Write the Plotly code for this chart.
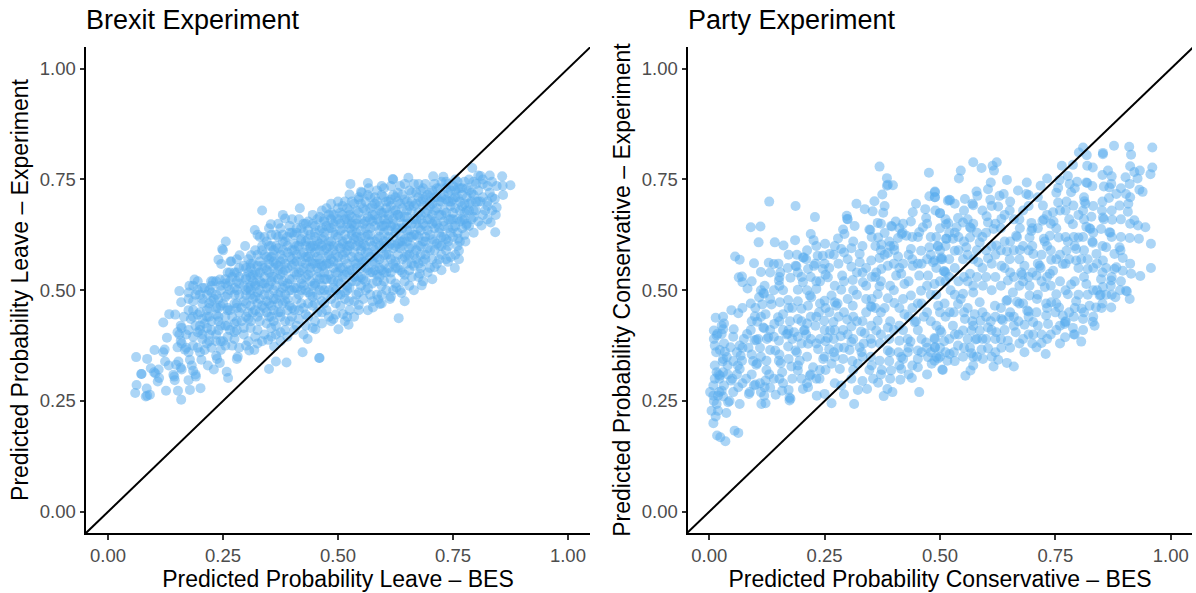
import plotly.graph_objects as go

panel_titles = ["Brexit Experiment", "Party Experiment"]
x_titles = ["Predicted Probability Leave – BES", "Predicted Probability Conservative – BES"]
y_titles = ["Predicted Probability Leave – Experiment", "Predicted Probability Conservative – Experiment"]
tick_values = [0, 0.25, 0.5, 0.75, 1]
tick_labels = ["0.00", "0.25", "0.50", "0.75", "1.00"]
diagonal = [-0.06, 1.06]

# (BES, experiment) pairs
brexit_edge = [
(.061,.349),(.085,.345),(.072,.311),(.073,.311),(.093,.324),(.1,.315),(.103,.312),(.11,.321),(.108,.294),(.111,.302),(.062,.286),(.059,.268),(.084,.278),(.082,.26),(.085,.262),(.091,.264),(.126,.273),(.152,.273),(.159,.253),(.178,.275),(.201,.279),(.175,.297),(.142,.309),(.145,.297),(.144,.305),(.124,.339),(.101,.365),(.12,.36),(.123,.366),(.132,.33),(.148,.332),(.153,.339),(.16,.321),(.158,.325),(.178,.343),(.182,.33),(.185,.318),(.191,.305),(.19,.31),(.203,.343),(.217,.33),(.23,.321),(.243,.336),(.235,.352),(.237,.345),(.258,.316),(.261,.302),(.28,.345),(.282,.35),(.307,.364),(.318,.365),(.325,.38),(.348,.388),(.361,.373),(.35,.322),(.365,.339),(.388,.337),(.423,.36),(.459,.347),
(.335,.68),(.354,.649),(.385,.662),(.417,.685),(.319,.636),(.325,.625),(.33,.62),(.256,.61),(.248,.593),(.25,.59),(.298,.6),(.24,.569),(.266,.565),(.268,.565),(.246,.559),(.286,.579),(.28,.57),(.311,.579),(.188,.524),(.224,.52),(.228,.52),(.243,.524),(.155,.498),(.177,.51),(.159,.473),(.133,.446),(.146,.445),(.12,.427),(.128,.393),(.158,.42),(.16,.415),(.151,.405),(.155,.4),(.151,.371),(.158,.386),(.167,.366),(.16,.38),(.17,.37),
(.46,.347),(.632,.437),(.682,.511),(.754,.55),(.763,.57),(.763,.589),(.842,.631),(.832,.653),(.843,.67),(.841,.706),(.875,.737),(.858,.736),(.859,.715),(.857,.757),(.83,.759),(.805,.759),(.81,.758),(.792,.776),(.729,.756),(.707,.757),(.653,.754),(.619,.751),(.62,.75),(.595,.735),(.565,.742),(.567,.73),(.527,.74),(.525,.716),(.55,.722),(.552,.72),(.523,.422),(.501,.412),(.545,.467),(.576,.461),(.591,.469),(.587,.479),(.613,.48),(.638,.494),(.627,.506),(.434,.39),(.451,.412),(.49,.435),(.511,.446),(.524,.475),(.678,.537),(.71,.552),(.739,.564),(.777,.61),(.812,.646),(.845,.687),(.779,.646),(.761,.616),
]
brexit_body = [
(.17,.40),(.19,.42),(.165,.44),(.185,.455),(.205,.47),(.175,.48),(.195,.50),(.215,.44),(.225,.41),(.205,.39),(.185,.375),(.235,.385),(.22,.46),(.24,.44),(.23,.48),(.21,.505),(.245,.50),(.25,.47),(.255,.42),(.26,.395),(.245,.365),(.27,.375),
(.27,.44),(.28,.47),(.265,.50),(.285,.515),(.29,.43),(.295,.40),(.305,.45),(.31,.49),(.30,.53),(.32,.51),(.325,.47),(.33,.43),(.34,.40),(.345,.45),(.35,.49),(.34,.53),(.325,.555),(.345,.575),(.36,.55),(.355,.60),(.34,.62),(.365,.625),(.375,.58),(.38,.52),(.37,.47),(.385,.43),(.39,.395),(.40,.44),(.41,.48),(.395,.50),(.405,.54),(.39,.60),(.41,.63),(.40,.66),(.425,.65),(.43,.60),(.42,.565),(.44,.52),(.435,.47),(.45,.43),(.465,.45),(.47,.50),(.455,.55),(.46,.59),(.45,.63),(.47,.66),(.445,.67),(.485,.64),(.49,.60),(.48,.56),(.50,.52),(.495,.47),(.515,.48),(.53,.52),(.52,.56),(.51,.61),(.505,.65),(.525,.68),(.50,.70),(.54,.66),(.55,.62),(.535,.585),(.56,.55),(.55,.51),(.57,.49),(.585,.52),(.60,.56),(.58,.59),(.57,.64),(.59,.68),(.56,.70),(.545,.705),(.605,.70),(.62,.66),(.61,.62),(.63,.58),(.615,.54),(.645,.52),(.65,.56),(.66,.60),(.64,.64),(.65,.68),(.63,.72),(.60,.73),(.67,.72),(.685,.69),(.67,.65),(.69,.62),(.68,.58),(.70,.55),(.71,.59),(.72,.63),(.705,.67),(.715,.71),(.69,.74),(.735,.73),(.745,.69),(.73,.655),(.75,.62),(.735,.59),(.76,.6),(.77,.64),(.765,.68),(.78,.71),(.76,.745),(.80,.74),(.81,.70),(.795,.665),(.82,.68),(.83,.72),(.845,.735),
(.18,.435),(.2,.41),(.21,.425),(.19,.49),(.225,.495),(.235,.46),(.26,.455),(.255,.515),(.275,.49),(.28,.41),(.31,.415),(.315,.535),(.33,.5),(.355,.52),(.36,.455),(.355,.415),(.375,.405),(.39,.455),(.385,.49),(.37,.545),(.385,.56),(.38,.625),(.405,.605),(.42,.525),(.415,.455),(.43,.42),(.445,.485),(.46,.525),(.475,.575),(.465,.615),(.485,.675),(.435,.635),(.44,.58),(.5,.56),(.505,.49),(.48,.44),(.52,.44),(.54,.49),(.55,.55),(.515,.585),(.53,.625),(.52,.66),(.56,.6),(.575,.54),(.595,.49),(.6,.6),(.59,.635),(.58,.71),(.615,.69),(.635,.61),(.655,.62),(.625,.55),(.64,.54),(.67,.57),(.675,.62),(.695,.66),(.66,.7),(.645,.74),(.71,.64),(.725,.6),(.74,.64),(.725,.7),(.755,.71),(.77,.73),(.785,.68),(.775,.66),(.8,.7),(.825,.7),(.815,.74),(.74,.74),(.71,.74),(.675,.74),
(.2,.36),(.21,.365),(.22,.385),(.25,.385),(.275,.405),(.3,.375),(.32,.395),(.36,.43),(.365,.4),(.375,.44),(.29,.46),(.3,.5),(.27,.53),(.26,.54),(.285,.55),(.31,.55),(.32,.59),(.335,.6),(.35,.64),(.37,.65),(.38,.67),(.395,.63),(.41,.58),(.42,.61),(.43,.56),(.44,.6),(.45,.6),(.47,.62),(.48,.6),(.49,.67),(.51,.69),(.53,.65),(.54,.63),(.56,.64),(.575,.67),(.6,.66),(.61,.66),(.625,.64),(.64,.6),(.655,.58),(.61,.58),(.59,.55),(.54,.55),(.51,.53),(.47,.54),(.45,.51),(.42,.5),(.41,.42),(.43,.445),(.47,.47),(.49,.505),(.52,.5),(.56,.5),(.58,.56),(.6,.52),(.62,.5),(.66,.53),(.68,.55),(.69,.58),(.72,.57),(.74,.61),(.75,.66),(.78,.65),(.79,.7),(.8,.68),(.7,.7),(.68,.66),(.65,.65),(.63,.67),(.6,.63),(.57,.61),(.55,.59),(.52,.6),(.49,.55),(.46,.56),(.44,.55),(.4,.57),(.38,.59),(.36,.58),(.35,.56),(.33,.54),(.31,.51),
]
# experiment values read in narrow columns through the dense band, keyed by BES value
brexit_columns = {
.175:[.36,.41,.455,.495], .185:[.395,.44,.475,.51], .195:[.37,.405,.445,.52], .205:[.40,.435,.48,.505], .215:[.38,.415,.455,.49],
.225:[.37,.43,.475,.51], .235:[.40,.445,.49,.52], .245:[.385,.42,.465,.51], .255:[.375,.44,.485,.525], .265:[.41,.455,.52,.54],
.275:[.39,.425,.47,.505,.54], .285:[.37,.45,.49,.53], .295:[.415,.475,.51,.555], .305:[.385,.435,.505,.54,.57], .315:[.45,.48,.52,.56],
.325:[.41,.44,.495,.535,.58], .335:[.385,.465,.515,.555,.59], .345:[.425,.475,.505,.545,.61], .355:[.395,.44,.465,.53,.575,.625], .365:[.42,.48,.51,.56,.6],
.375:[.385,.45,.495,.535,.565,.64], .385:[.41,.475,.51,.545,.61], .395:[.43,.465,.525,.575,.645], .405:[.41,.455,.505,.56,.59,.625], .415:[.435,.49,.54,.6,.66],
.425:[.4,.46,.51,.55,.585,.63], .435:[.44,.495,.535,.575,.615,.655], .445:[.415,.465,.51,.56,.6,.65], .455:[.45,.49,.53,.575,.61,.66], .465:[.425,.475,.51,.555,.6,.64,.68],
.475:[.455,.49,.525,.56,.595,.645,.685], .485:[.43,.48,.525,.57,.61,.66,.695], .495:[.445,.5,.54,.58,.625,.655], .505:[.465,.515,.55,.595,.635,.675], .515:[.43,.495,.535,.57,.625,.66,.7],
.525:[.455,.505,.545,.6,.64,.67], .535:[.44,.475,.53,.565,.615,.645,.695], .545:[.455,.495,.53,.575,.61,.675,.71], .555:[.48,.525,.565,.605,.65,.685], .565:[.455,.505,.545,.585,.625,.665,.715],
.575:[.475,.515,.565,.6,.655,.69], .585:[.49,.535,.575,.615,.66,.7,.725], .595:[.47,.51,.545,.595,.645,.675,.715], .605:[.5,.54,.58,.61,.65,.685], .615:[.485,.525,.57,.605,.645,.705,.735],
.625:[.515,.565,.6,.63,.68,.71], .635:[.5,.545,.595,.625,.665,.695,.735], .645:[.475,.535,.575,.615,.665,.705], .655:[.51,.545,.595,.635,.69,.725], .665:[.5,.555,.58,.625,.66,.69,.74],
.675:[.53,.56,.6,.64,.675,.71], .685:[.52,.565,.61,.65,.705,.73], .695:[.54,.595,.635,.68,.715], .705:[.525,.57,.615,.65,.695,.725], .715:[.56,.605,.65,.685,.73],
.725:[.545,.58,.62,.67,.71,.745], .735:[.57,.615,.675,.705,.745], .745:[.575,.63,.66,.7,.725], .755:[.58,.645,.685,.725,.75], .765:[.61,.655,.7,.73],
.775:[.625,.675,.695,.745], .785:[.645,.695,.725,.75], .795:[.63,.68,.715,.745], .805:[.655,.7,.725], .815:[.67,.71,.75], .825:[.66,.69,.735], .835:[.68,.71,.745],
}
brexit_core = {
.20:[.42,.45,.49], .22:[.4,.44,.47,.5], .24:[.41,.43,.46,.48], .26:[.42,.46,.49,.51], .28:[.43,.46,.5,.52,.54],
.30:[.44,.47,.49,.525,.55], .31:[.43,.465,.5,.53,.56], .32:[.455,.485,.515,.54], .33:[.45,.48,.52,.565], .34:[.46,.49,.515,.55,.58],
.35:[.44,.47,.51,.54,.57,.6], .36:[.48,.5,.53,.565,.59], .37:[.45,.49,.525,.555,.595,.62], .38:[.47,.505,.54,.57,.61], .39:[.48,.515,.55,.585,.62],
.40:[.46,.5,.525,.555,.59,.63], .41:[.505,.535,.565,.6,.64], .42:[.47,.515,.545,.58,.615,.64], .43:[.5,.53,.575,.61,.65], .44:[.49,.54,.565,.595,.625],
.45:[.47,.515,.56,.585,.62,.645], .46:[.5,.54,.57,.605,.635,.665], .47:[.525,.555,.59,.63,.655], .48:[.5,.535,.58,.61,.64,.67], .49:[.52,.565,.59,.63,.65],
.50:[.49,.54,.575,.6,.62,.66,.685], .51:[.55,.58,.605,.64,.67], .52:[.51,.54,.59,.615,.65,.685], .53:[.545,.575,.605,.635,.665,.7], .54:[.52,.56,.6,.62,.65,.68],
.55:[.53,.57,.6,.635,.66,.695], .56:[.52,.565,.585,.62,.655,.68], .57:[.54,.575,.625,.66,.685,.71], .58:[.545,.58,.61,.645,.67,.695], .59:[.53,.57,.6,.62,.655,.69],
.60:[.54,.58,.61,.645,.675,.71], .61:[.55,.6,.635,.67,.7], .62:[.56,.595,.62,.65,.68,.715], .63:[.55,.605,.64,.67,.7], .64:[.57,.61,.65,.685,.715],
.65:[.58,.61,.635,.665,.7], .66:[.56,.62,.65,.68,.72], .67:[.59,.625,.66,.695], .68:[.6,.635,.67,.7,.725], .69:[.57,.61,.645,.675,.71],
.70:[.59,.625,.66,.69,.72], .71:[.61,.655,.68,.71], .72:[.6,.64,.67,.7,.73], .73:[.62,.645,.68,.715], .74:[.6,.66,.7,.72], .75:[.64,.675,.705,.735],
.76:[.63,.66,.71,.73], .77:[.66,.69,.715], .78:[.68,.73], .79:[.66,.72],
}

party_left = [
(.369,.779),(.385,.753),(.385,.736),(.387,.738),(.398,.737),(.476,.765),(.489,.721),(.477,.712),(.489,.71),(.375,.716),(.358,.701),(.380,.690),(.319,.695),(.337,.683),(.354,.678),(.377,.675),(.13,.7),(.187,.69),(.229,.665),(.298,.668),(.299,.661),(.300,.66),(.315,.645),(.290,.637),(.293,.627),(.279,.617),(.347,.637),(.349,.636),(.365,.652),(.394,.645),(.396,.644),(.404,.655),(.366,.619),(.380,.629),(.373,.603),(.409,.618),(.417,.627),(.427,.623),(.419,.63),(.448,.695),(.441,.676),(.437,.655),(.468,.683),(.47,.663),(.463,.642),(.455,.631),(.09,.642),(.111,.644),(.107,.608),(.142,.608),(.161,.601),(.186,.613),(.22,.627),(.226,.613),(.251,.605),(.056,.576),(.066,.569),(.097,.561),(.129,.562),(.14,.559),(.203,.574),(.205,.574),(.187,.555),(.189,.554),(.112,.541),(.154,.54),(.151,.522),(.152,.53),(.176,.528),(.064,.529),(.071,.531),(.072,.518),(.083,.504),(.117,.494),(.119,.492),(.108,.484),(.115,.468),(.135,.468),(.048,.455),(.063,.448),(.014,.438),(.099,.441),(.122,.446),(.104,.429),(.141,.424),(.117,.416),(.119,.414),(.027,.42),(.053,.412),(.010,.409),(.016,.398),(.010,.39),(.03,.412),(.027,.401),(.018,.402),(.082,.401),(.102,.388),(.106,.39),(.098,.387),(.066,.375),(.046,.371),(.023,.365),(.034,.361),(.029,.339),(.038,.349),(.068,.352),(.071,.341),(.066,.322),(.062,.33),(.095,.34),(.102,.332),(.104,.335),(.124,.341),(.128,.394),(.143,.364),(.151,.386),(.167,.4),(.17,.402),(.184,.405),(.205,.409),(.207,.41),(.171,.373),(.187,.364),(.19,.36),(.151,.341),(.155,.335),(.124,.32),(.158,.315),(.178,.328),(.196,.341),(.192,.319),(.122,.296),(.12,.281),(.097,.285),(.1,.287),(.086,.266),(.088,.27),(.063,.281),(.047,.296),(.023,.307),(.016,.315),(.03,.315),(.022,.3),(.009,.285),(.019,.262),(.009,.262),(.027,.273),(.022,.27),(.041,.247),(.044,.25),(.066,.243),(.113,.243),(.122,.245),(.119,.262),(.144,.264),(.174,.258),(.174,.251),(.176,.255),(.158,.273),(.203,.277),(.214,.281),(.239,.3),(.225,.326),(.218,.307),(.233,.262),(.25,.266),(.265,.245),(.314,.243),(.322,.275),(.342,.277),(.355,.3),(.366,.291),(.378,.261),(.386,.277),(.397,.27),(.414,.298),(.439,.302),(.455,.27),(.286,.285),(.308,.3),(.283,.322),(.265,.334),(.29,.345),(.247,.345),(.236,.367),(.214,.379),(.22,.39),(.26,.367),(.257,.392),(.285,.396),(.308,.383),(.304,.365),(.326,.371),(.322,.334),(.347,.32),(.374,.32),(.394,.319),(.416,.322),(.416,.349),(.42,.345),(.387,.364),(.369,.341),(.412,.386),(.436,.384),(.452,.364),(.452,.326),(.474,.349),(.488,.341),(.506,.32),(.488,.392),(.489,.371),(.47,.382),(.445,.428),(.448,.43),(.423,.446),(.387,.416),(.362,.409),(.337,.403),(.308,.418),(.299,.434),(.329,.407),(.351,.42),(.365,.431),(.35,.464),(.352,.462),(.34,.45),(.311,.465),(.272,.473),(.265,.488),(.275,.465),(.278,.47),(.286,.501),(.25,.476),(.238,.45),(.269,.428),(.249,.431),(.262,.409),(.192,.435),(.16,.446),(.149,.439),(.171,.478),(.153,.473),(.2,.458),(.214,.465),(.221,.484),(.232,.503),(.192,.501),(.203,.518),(.218,.488),(.257,.529),(.246,.548),(.227,.555),(.214,.548),(.246,.578),(.235,.578),(.261,.582),(.286,.593),(.308,.595),(.326,.582),(.326,.563),(.308,.553),(.288,.533),(.311,.523),(.333,.518),(.351,.567),(.369,.573),(.387,.584),(.409,.576),(.401,.591),(.362,.54),(.373,.548),(.387,.555),(.416,.537),(.405,.533),(.369,.509),(.365,.491),(.387,.482),(.401,.471),(.423,.514),(.437,.488),(.459,.499),(.455,.533),(.441,.555),(.474,.533),(.437,.593),(.459,.589),(.477,.597),(.495,.6),(.502,.57),(.488,.567),(.508,.543),(.488,.514),(.517,.702),(.5,.674),(.513,.649),(.513,.616),
(.009,.2),(.017,.172),(.024,.168),(.035,.159),(.055,.183),(.063,.178),(.014,.215),(.005,.228),(.037,.223),(.016,.243),(.019,.228),(.01,.25),(.002,.27),(.03,.26),
]
party_right = [
(.877,.826),(.91,.824),(.96,.822),(.914,.806),(.853,.81),(.853,.807),(.81,.822),(.801,.811),(.818,.805),(.764,.781),(.788,.783),(.819,.781),(.831,.777),(.96,.777),(.956,.762),(.864,.77),(.872,.757),(.921,.767),(.933,.77),(.928,.752),(.902,.755),(.911,.74),(.871,.74),(.867,.732),(.855,.734),(.817,.743),(.819,.742),(.83,.735),(.797,.745),(.777,.758),(.759,.749),(.781,.74),(.756,.731),(.784,.721),(.932,.727),(.939,.722),(.903,.717),(.882,.717),(.866,.708),(.908,.695),(.889,.691),(.907,.677),(.921,.658),(.929,.646),(.945,.642),(.911,.618),(.931,.616),(.957,.605),(.957,.55),(.934,.532),(.914,.537),(.896,.544),(.882,.552),(.896,.573),(.889,.597),(.891,.59),(.878,.582),(.86,.597),(.831,.607),(.8,.619),(.777,.61),(.757,.619),(.867,.631),(.869,.63),(.849,.638),(.824,.64),(.817,.643),(.826,.638),(.873,.659),(.853,.664),(.855,.66),(.851,.68),(.828,.666),(.81,.68),(.813,.701),(.815,.695),(.789,.691),(.774,.7),(.756,.698),(.745,.676),(.723,.691),(.722,.657),(.725,.66),(.746,.655),(.788,.649),(.698,.652),(.687,.717),(.692,.715),(.669,.725),(.688,.743),(.718,.736),(.732,.752),(.645,.749),(.623,.789),(.614,.781),(.617,.77),(.572,.789),(.59,.776),(.545,.77),(.541,.752),(.61,.743),(.604,.728),(.579,.723),(.581,.713),(.629,.713),(.638,.717),(.609,.704),(.554,.706),(.52,.704),(.522,.703),(.489,.723),(.489,.71),(.532,.695),(.57,.695),(.572,.692),(.626,.689),(.651,.68),(.5,.674),(.601,.667),(.633,.661),(.604,.653),(.539,.663),(.518,.651),(.565,.642),(.567,.64),(.536,.642),(.55,.653),(.616,.638),(.673,.64),(.665,.623),(.667,.62),(.694,.619),(.725,.616),(.727,.61),(.698,.634),(.738,.623),(.528,.616),(.514,.616),(.496,.599),(.557,.597),(.586,.608),(.565,.619),(.622,.601),(.673,.591),(.645,.588),(.702,.582),(.741,.569),(.774,.589),(.795,.593),(.806,.57),(.839,.582),(.853,.567),(.82,.548),(.795,.567),(.766,.559),(.745,.544),(.716,.555),(.718,.55),(.683,.555),(.651,.57),(.633,.555),(.604,.572),(.583,.563),(.55,.57),(.532,.589),(.503,.574),(.505,.57),(.485,.563),(.51,.543),(.512,.54),(.565,.537),(.593,.51),(.647,.522),(.676,.54),(.678,.535),(.709,.533),(.738,.537),(.784,.513),(.817,.514),(.849,.525),(.871,.522),(.878,.548),(.853,.507),(.846,.488),(.848,.49),(.871,.461),(.838,.461),(.824,.465),(.911,.48),(.903,.499),(.905,.497),(.88,.484),(.807,.458),(.795,.475),(.777,.491),(.752,.491),(.741,.473),(.727,.507),(.694,.51),(.694,.488),(.658,.495),(.667,.474),(.644,.476),(.646,.478),(.619,.465),(.572,.495),(.55,.492),(.523,.5),(.539,.469),(.521,.45),(.496,.465),(.586,.473),(.575,.446),(.554,.435),(.528,.42),(.503,.405),(.489,.39),(.509,.385),(.489,.371),(.539,.375),(.521,.356),(.496,.346),(.55,.409),(.568,.409),(.588,.431),(.586,.409),(.577,.389),(.604,.416),(.622,.405),(.633,.435),(.636,.432),(.664,.405),(.689,.454),(.692,.452),(.709,.45),(.73,.443),(.734,.424),(.702,.428),(.683,.422),(.702,.4),(.72,.4),(.72,.381),(.709,.371),(.683,.36),(.729,.356),(.758,.461),(.766,.443),(.77,.424),(.772,.428),(.788,.415),(.771,.394),(.806,.384),(.81,.435),(.831,.429),(.835,.42),(.647,.386),(.633,.37),(.604,.369),(.59,.366),(.565,.37),(.568,.358),(.593,.345),(.626,.343),(.616,.328),(.645,.336),(.66,.328),(.572,.33),(.555,.307),(.566,.319),(.505,.321),(.482,.334),(.516,.341),
]
party_fill = [
(.02,.31),(.03,.345),(.015,.36),(.04,.33),(.06,.36),(.075,.39),(.09,.41),(.085,.37),(.11,.37),(.125,.39),(.14,.395),(.16,.41),(.175,.43),(.18,.39),(.2,.38),(.21,.4),(.23,.42),(.24,.39),(.25,.41),(.27,.39),(.28,.37),(.29,.41),(.3,.4),(.32,.43),(.335,.38),(.35,.39),(.37,.38),(.39,.39),(.4,.41),(.42,.41),(.43,.36),(.44,.33),(.46,.39),(.465,.44),(.48,.43),(.5,.41),(.5,.45),(.51,.47),(.53,.45),(.545,.48),(.56,.46),(.57,.43),(.6,.44),(.61,.43),(.62,.44),(.65,.44),(.66,.44),(.67,.43),(.68,.47),(.71,.48),(.73,.47),(.75,.45),(.76,.42),(.78,.45),(.79,.44),(.8,.49),(.82,.49),(.84,.5),(.85,.46),(.86,.49),(.87,.51),(.89,.5),(.76,.52),(.74,.51),(.72,.52),(.7,.54),(.68,.52),(.66,.53),(.64,.55),(.62,.53),(.6,.53),(.58,.53),(.56,.52),(.54,.52),(.52,.53),(.5,.52),(.48,.49),(.46,.47),(.44,.46),(.42,.48),(.4,.5),(.38,.46),(.36,.46),(.34,.48),(.32,.49),(.3,.48),(.28,.44),(.26,.45),(.24,.47),(.22,.44),(.2,.43),(.18,.46),(.16,.5),(.14,.5),(.12,.51),(.1,.46),(.09,.47),(.03,.44),(.2,.53),(.22,.53),(.24,.52),(.26,.55),(.28,.56),(.3,.57),(.32,.54),(.34,.55),(.36,.6),(.38,.58),(.4,.56),(.42,.56),(.44,.57),(.46,.56),(.48,.58),(.5,.59),(.52,.57),(.54,.59),(.56,.58),(.58,.59),(.6,.59),(.62,.58),(.64,.61),(.66,.59),(.68,.6),(.7,.6),(.72,.58),(.74,.59),(.76,.58),(.78,.57),(.8,.55),(.82,.57),(.84,.56),(.86,.55),(.79,.62),(.81,.62),(.83,.61),(.78,.66),(.8,.67),(.76,.68),(.74,.65),(.7,.64),(.68,.68),(.66,.66),(.64,.67),(.62,.65),(.6,.63),(.58,.63),(.56,.66),(.54,.62),(.52,.63),(.5,.64),(.48,.62),(.49,.68),(.44,.62),(.42,.65),(.4,.6),(.39,.61),(.36,.53),(.34,.51),(.27,.58),(.25,.56),(.21,.57),(.19,.58),(.23,.56),(.17,.55),(.15,.56),(.25,.35),(.27,.36),(.31,.34),(.33,.36),(.35,.35),(.39,.34),(.41,.36),(.43,.39),(.46,.36),(.48,.36),(.5,.37),(.52,.39),(.54,.4),(.56,.39),(.58,.39),(.6,.39),(.62,.39),(.64,.41),(.66,.42),(.68,.39),(.7,.38),(.74,.4),(.76,.38),(.79,.4),(.81,.41),(.22,.31),(.24,.32),(.2,.3),(.18,.3),(.16,.29),(.14,.3),(.13,.31),(.11,.29),(.08,.3),(.06,.31),(.05,.3),(.04,.31),(.53,.36),(.55,.35),(.58,.35),(.62,.36),(.5,.35),
]
# further party readings, keyed by BES value
party_columns = {
.012:[.3,.33,.375], .032:[.285,.38,.425], .052:[.27,.34,.395], .072:[.29,.37,.46], .092:[.31,.355,.43,.52], .112:[.27,.35,.44,.5], .132:[.28,.365,.41,.48,.54],
.152:[.3,.355,.43,.51], .172:[.275,.345,.41,.46,.58], .192:[.33,.395,.475,.54], .212:[.29,.35,.425,.5,.59], .232:[.3,.38,.44,.52,.6], .252:[.32,.385,.46,.535],
.272:[.29,.35,.41,.51,.6], .292:[.265,.37,.45,.52,.585], .312:[.32,.39,.44,.5,.61], .332:[.295,.35,.43,.54,.6], .352:[.33,.38,.48,.53,.62], .372:[.31,.4,.45,.52,.59,.65],
.392:[.3,.36,.43,.51,.6], .412:[.33,.42,.46,.55,.64], .432:[.31,.37,.44,.52,.58], .452:[.345,.41,.47,.56,.62], .472:[.31,.37,.45,.51,.57,.65], .492:[.35,.42,.49,.55,.62],
.512:[.36,.44,.52,.6,.66], .532:[.34,.4,.49,.55,.63], .552:[.37,.45,.53,.61,.68], .572:[.35,.42,.51,.57,.65], .592:[.39,.45,.55,.62,.68], .612:[.35,.41,.5,.56,.6,.69],
.632:[.39,.46,.51,.59,.64], .652:[.37,.45,.54,.61,.7], .672:[.38,.47,.51,.57,.66], .692:[.4,.44,.53,.59,.69], .712:[.42,.49,.56,.64,.71], .732:[.39,.46,.53,.6,.67],
.752:[.41,.47,.57,.64,.72], .772:[.43,.5,.56,.62,.68], .792:[.4,.46,.52,.6,.73], .812:[.45,.53,.59,.66,.71], .832:[.44,.5,.55,.63,.69], .852:[.47,.54,.6,.7,.76],
.872:[.49,.53,.62,.68], .892:[.52,.62,.66,.73], .912:[.56,.65,.71,.78],
}

brexit_points = (brexit_edge + brexit_body
                 + [(x, y) for x, ys in brexit_columns.items() for y in ys]
                 + [(x, y) for x, ys in brexit_core.items() for y in ys])
party_points = party_left + party_right + party_fill + [(x, y) for x, ys in party_columns.items() for y in ys]

point_color = "#58ACEE"
fig = go.Figure()
for i, pts in enumerate([brexit_points, party_points]):
    s = "" if i == 0 else "2"
    fig.add_trace(go.Scatter(
        x=[p[0] for p in pts], y=[p[1] for p in pts], mode="markers", xaxis="x" + s, yaxis="y" + s,
        marker=dict(size=10, color=point_color, opacity=0.5, line=dict(width=0)), showlegend=False))
    fig.add_trace(go.Scatter(
        x=diagonal, y=diagonal, mode="lines", xaxis="x" + s, yaxis="y" + s,
        line=dict(color="black", width=2), showlegend=False))

W, H = 1196, 593
axis_common = dict(
    tickmode="array", tickvals=tick_values, ticktext=tick_labels, ticks="outside", ticklen=4.5, tickwidth=1.5,
    tickcolor="#333333", showline=True, linecolor="black", linewidth=2, showgrid=False, zeroline=False,
    tickfont=dict(size=18.5, color="#4D4D4D", family="Liberation Sans"),
)
title_font = dict(size=23, color="black", family="Liberation Sans")
y0, y1 = 1 - 533 / H, 1 - 47 / H
fig.update_layout(
    width=W, height=H, margin=dict(l=0, r=0, t=0, b=0), paper_bgcolor="white", plot_bgcolor="white",
    xaxis=dict(domain=[86 / W, 590 / W], range=[-0.048, 1.048], anchor="y",
               title=dict(text=x_titles[0], font=title_font, standoff=1), **axis_common),
    yaxis=dict(domain=[y0, y1], range=[-0.048, 1.049], anchor="x",
               title=dict(text=y_titles[0], font=title_font, standoff=5), **axis_common),
    xaxis2=dict(domain=[688 / W, 1192 / W], range=[-0.046, 1.046], anchor="y2",
                title=dict(text=x_titles[1], font=title_font, standoff=1), **axis_common),
    yaxis2=dict(domain=[y0, y1], range=[-0.048, 1.049], anchor="x2",
                title=dict(text=y_titles[1], font=title_font, standoff=5), **axis_common),
    annotations=[
        dict(text=panel_titles[0], x=86 / W, y=1 - 37.5 / H, xref="paper", yref="paper", xanchor="left", yanchor="bottom",
             showarrow=False, xshift=-2, font=dict(size=27, color="black", family="Liberation Sans")),
        dict(text=panel_titles[1], x=688 / W, y=1 - 37.5 / H, xref="paper", yref="paper", xanchor="left", yanchor="bottom",
             showarrow=False, xshift=-2, font=dict(size=27, color="black", family="Liberation Sans")),
    ],
)
fig.write_html("out.html", post_script="document.body.style.margin='0';", config={"displayModeBar": False})
